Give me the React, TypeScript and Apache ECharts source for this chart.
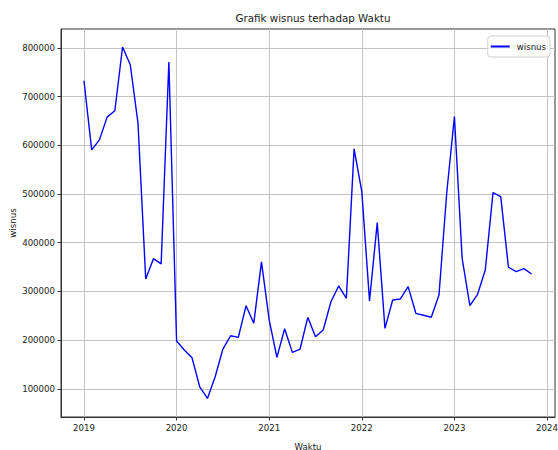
import React, { useEffect, useRef } from "react";
import * as echarts from "echarts";

const startYear = 2019;
const months = Array.from({ length: 59 }, (_, i) => startYear + i / 12);
const wisnus = [
  732700, 590800, 611300, 658000, 671000, 802000, 765600, 645700, 325500, 367300, 356400, 771100,
  198000, 179500, 163700, 104000, 80200, 124600, 181600, 208900, 205600, 270600, 234400, 360500,
  241200, 164500, 223300, 174800, 181600, 246800, 206900, 220600, 278800, 311100, 285800, 592800,
  505000, 280300, 441300, 224100, 282300, 284400, 309700, 255000, 250900, 246800, 292600, 501700,
  659200, 368100, 270600, 294000, 344000, 503000, 494700, 349600, 340500, 346700, 335800,
];
const xTicks = [2019, 2020, 2021, 2022, 2023, 2024];
const yTicks = [100000, 200000, 300000, 400000, 500000, 600000, 700000, 800000];

export default function App() {
  const ref = useRef<HTMLDivElement>(null);
  useEffect(() => {
    if (!ref.current) return;
    const chart = echarts.init(ref.current, undefined, { renderer: "svg" });
    const font = "DejaVu Sans";
    const txt = "#222";
    chart.setOption({
      animation: false,
      backgroundColor: "#fff",
      title: {
        text: "Grafik wisnus terhadap Waktu",
        left: 308,
        top: 8,
        textAlign: "center",
        textStyle: { fontFamily: font, fontSize: 10.3, fontWeight: "normal", color: txt },
      },
      legend: {
        right: 8,
        top: 36,
        orient: "horizontal",
        padding: [6, 4, 6, 3],
        itemWidth: 19,
        itemHeight: 2,
        itemGap: 6,
        icon: "rect",
        borderColor: "#d0d0d0",
        borderWidth: 1,
        borderRadius: 3,
        backgroundColor: "rgba(255,255,255,0.8)",
        textStyle: { fontFamily: font, fontSize: 8.6, color: txt, padding: [0, 0, 0, 2] },
        data: ["wisnus"],
      },
      grid: {
        left: 61,
        right: 3,
        top: 29,
        bottom: 33,
        show: true,
        borderColor: "#333",
        borderWidth: 1,
        containLabel: false,
        outerBoundsMode: "none",
      },
      xAxis: {
        type: "value",
        min: 2018.752,
        max: 2024.086,
        name: "Waktu",
        nameLocation: "middle",
        nameGap: 25,
        nameMoveOverlap: false,
        nameTextStyle: { fontFamily: font, fontSize: 8.6, color: txt },
        axisLine: { show: true, lineStyle: { color: "#333", width: 1 } },
        axisTick: { show: true, length: 3.5, lineStyle: { color: "#333" }, customValues: xTicks },
        axisLabel: {
          fontFamily: font,
          fontSize: 8.6,
          color: txt,
          margin: 6,
          customValues: xTicks,
          formatter: (v: number) => String(Math.round(v)),
        },
        splitLine: { show: true, lineStyle: { color: "#c4c4c4", width: 1 } },
      },
      yAxis: {
        type: "value",
        min: 42000,
        max: 839000,
        name: "wisnus",
        nameLocation: "middle",
        nameGap: 44,
        nameMoveOverlap: false,
        nameTextStyle: { fontFamily: font, fontSize: 8.6, color: txt },
        axisLine: { show: true, lineStyle: { color: "#333", width: 1 } },
        axisTick: { show: true, length: 3.5, lineStyle: { color: "#333" }, customValues: yTicks },
        axisLabel: {
          fontFamily: font,
          fontSize: 8.6,
          color: txt,
          margin: 6,
          customValues: yTicks,
          formatter: (v: number) => String(Math.round(v)),
        },
        splitLine: { show: true, lineStyle: { color: "#c4c4c4", width: 1 } },
      },
      series: [
        {
          name: "wisnus",
          type: "line",
          data: months.map((m, i) => [m, wisnus[i]]),
          showSymbol: false,
          symbol: "none",
          lineStyle: { color: "#0000ff", width: 1.4 },
          itemStyle: { color: "#0000ff" },
        },
      ],
    });
    return () => chart.dispose();
  }, []);
  return (
    <div
      ref={ref}
      style={{ position: "fixed", left: 0, top: 0, width: 558, height: 450, background: "#fff" }}
    />
  );
}
